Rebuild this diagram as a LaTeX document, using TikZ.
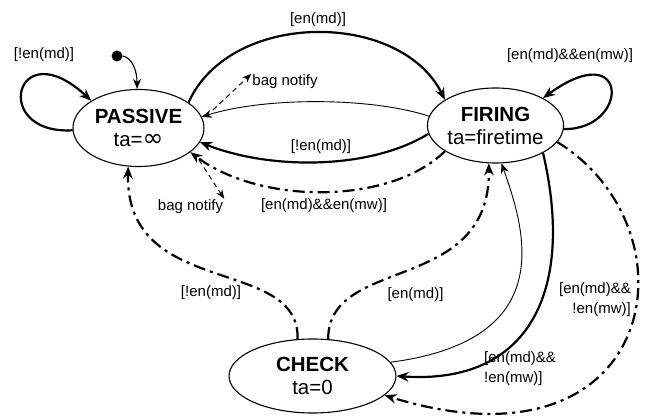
\documentclass[tikz,border=0pt]{standalone}
\usepackage{fontspec}
\setmainfont{Liberation Sans}
\newfontfamily\inffont{DejaVu Sans}
\usetikzlibrary{arrows.meta,shapes.geometric}

\begin{document}
\begin{tikzpicture}[x=1pt, y=-1pt,
    st/.style={draw, line width=1.1pt, ellipse, inner sep=0pt, align=center, font=\fontsize{20.5}{23}\selectfont},
    lbl/.style={inner sep=1pt, font=\fontsize{15}{19.5}\selectfont},
    tip/.style={-{Stealth[length=10pt,width=8pt]}},
    bigtip/.style={-{Stealth[length=12pt,width=9.5pt]}},
    solidline/.style={line width=2.2pt},
    thinline/.style={line width=0.9pt},
    dashdot/.style={line width=2.2pt, dash pattern=on 12pt off 5pt on 3pt off 5pt},
    notify/.style={line width=1pt, dash pattern=on 5pt off 4pt, -{Stealth[length=9pt,width=7pt]}}]
    \useasboundingbox (0,0) rectangle (646,417);

    \node[st, minimum width=131pt, minimum height=77pt] (passive) at (138.5,128) {\textbf{PASSIVE}\\ta={\inffont\fontsize{25}{23}\selectfont ∞}};
    \node[st, minimum width=131pt, minimum height=75pt] (firing) at (495.5,125.5) {\textbf{FIRING}\\ta=firetime};
    \node[st, minimum width=167pt, minimum height=74pt] (check) at (312.5,376) {\textbf{CHECK}\\ta=0};
    \node[fill, circle, inner sep=0pt, minimum size=11pt] (init) at (117,56) {};

    \draw[thinline, line width=1.1pt, tip] (init.east) .. controls (133,58) and (137,72) .. (passive.92);
    \draw[solidline, bigtip] (passive.182) .. controls (-10,135) and (15,30) .. (passive.150);
    \draw[solidline, bigtip] (firing.-3) .. controls (630,130) and (630,35) .. (firing.30);
    \draw[solidline, bigtip] (passive.27) .. controls (230,10) and (400,10) .. (firing.153);
    \draw[thinline, tip] (firing.172) .. controls (370,97) and (265,97) .. (passive.10);
    \draw[solidline, bigtip] (firing.187) .. controls (370,170) and (270,170) .. (passive.-13);
    \draw[dashdot, bigtip] (firing.207) .. controls (390,205) and (260,205) .. (passive.-25);
    \draw[dashdot, bigtip] (check.112) .. controls (300,255) and (125,300) .. (passive.-105);
    \draw[dashdot, bigtip] (check.67) .. controls (328,255) and (490,295) .. (firing.-100);
    \draw[thinline, tip] (check.10) .. controls (560,340) and (525,230) .. (firing.-81);
    \draw[solidline, bigtip] (firing.-30) .. controls (575,290) and (530,385) .. (check.0);
    \draw[dashdot, bigtip] (firing.-15) .. controls (700,230) and (660,480) .. (check.-15);

    \node[lbl] (lpp) at (44,55) {[!en(md)]};
    \node[lbl] (lff) at (570,56) {[en(md)\&\&en(mw)]};
    \node[lbl] (lpf) at (318,20) {[en(md)]};
    \node[lbl] (lfp) at (321,147) {[!en(md)]};
    \node[lbl] (lfpd) at (324,206) {[en(md)\&\&en(mw)]};
    \node[lbl] (lcp) at (211,293) {[!en(md)]};
    \node[lbl] (lcf) at (415.5,295) {[en(md)]};
    \node[lbl, align=left, anchor=west] (lfc) at (483,368.5) {[en(md)\&\&\\!en(mw)]};
    \node[lbl, align=right, anchor=east] (lfcd) at (632,299.5) {[en(md)\&\&\\!en(mw)]};

    \node[lbl] (bagA) at (285,82) {bag notify};
    \node[lbl] (bagB) at (190.5,207) {bag notify};
    \coordinate (bagAs) at (213,110);
    \coordinate (bagBs) at (199,160);
    \draw[notify] (bagAs) -- (bagA.north west);
    \draw[notify] (bagBs) -- (bagB.north east);
\end{tikzpicture}
\end{document}
